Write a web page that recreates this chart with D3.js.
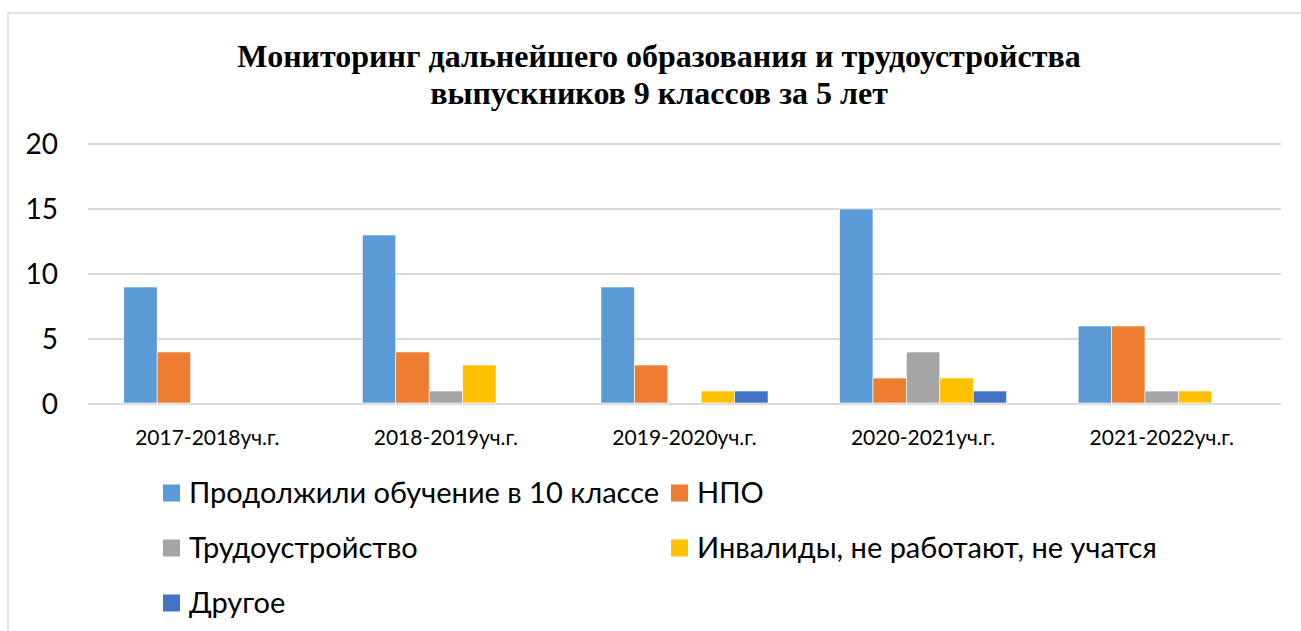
<!DOCTYPE html>
<html><head><meta charset="utf-8">
<script src="https://cdn.jsdelivr.net/npm/d3@7"></script>
<style>body{margin:0;background:#fff}svg{display:block}</style>
</head><body>
<svg id="c" width="1301" height="631"></svg>
<script>
const categories = ["2017-2018уч.г.","2018-2019уч.г.","2019-2020уч.г.","2020-2021уч.г.","2021-2022уч.г."];
const seriesNames = ["Продолжили обучение в 10 классе","НПО","Трудоустройство","Инвалиды, не работают, не учатся","Другое"];
const seriesColors = ["#5B9BD5","#ED7D31","#A5A5A5","#FFC000","#4472C4"];
const continued = [9,13,9,15,6];
const npo = [4,4,3,2,6];
const employed = [0,1,0,4,1];
const disabled = [0,3,1,2,1];
const other = [0,0,1,1,0];
const yTicks = [0,5,10,15,20];
const titleLines = ["Мониторинг дальнейшего образования и трудоустройства","выпускников 9 классов за 5 лет"];

(function(){
const seriesValues = [continued, npo, employed, disabled, other];
const svg = d3.select("#c");
const sansFont = "Lato, 'Open Sans', sans-serif";

svg.append("rect").attr("x",8).attr("y",13).attr("width",1310).attr("height",640)
  .attr("fill","#fff").attr("stroke","#d9d9d9").attr("stroke-width",1.5);

svg.append("g").selectAll("text").data(titleLines).join("text")
  .attr("x",659).attr("y",(d,i)=>67+i*37)
  .attr("text-anchor","middle").attr("font-family","'Liberation Serif','Times New Roman',serif")
  .attr("font-weight","bold").attr("font-size",32).attr("fill","#000").text(d=>d);

const pLeft=88, pRight=1281, pTop=144, pBottom=404;
const y = d3.scaleLinear().domain([0,20]).range([pBottom,pTop]);
const x0 = d3.scaleBand().domain(categories).range([pLeft,pRight]).paddingInner(0).paddingOuter(0);
const x1 = d3.scaleBand().domain(d3.range(seriesNames.length)).range([0,x0.bandwidth()]).paddingInner(0).paddingOuter(1.07);

svg.append("g").selectAll("line").data(yTicks).join("line")
  .attr("x1",pLeft).attr("x2",pRight).attr("y1",d=>y(d)).attr("y2",d=>y(d))
  .attr("stroke","#d9d9d9").attr("stroke-width",2);

svg.append("g").selectAll("text").data(yTicks).join("text")
  .attr("x",58).attr("y",d=>y(d)).attr("dy","0.36em").attr("text-anchor","end")
  .attr("font-family",sansFont).attr("font-size",28).attr("fill","#000").text(d=>d);

const g = svg.append("g");
categories.forEach((c,ci)=>{
  seriesValues.forEach((vals,si)=>{
    const v = vals[ci];
    if(v<=0) return;
    g.append("rect").attr("x",x0(c)+x1(si)).attr("width",x1.bandwidth())
      .attr("y",y(v)).attr("height",y(0)-y(v)-1)
      .attr("fill",seriesColors[si]).attr("stroke","#fff").attr("stroke-width",0.6);
  });
});

svg.append("g").selectAll("text").data(categories).join("text")
  .attr("x",d=>x0(d)+x0.bandwidth()/2).attr("y",437).attr("dy","0.36em")
  .attr("text-anchor","middle").attr("font-family",sansFont).attr("font-size",21).attr("fill","#000").text(d=>d);

const legendPos = [[163,493],[671,493],[163,548],[671,548],[163,603]];
const lg = svg.append("g").selectAll("g").data(seriesNames).join("g")
  .attr("transform",(d,i)=>`translate(${legendPos[i][0]},${legendPos[i][1]})`);
lg.append("rect").attr("x",0).attr("y",-8.5).attr("width",17).attr("height",17).attr("fill",(d,i)=>seriesColors[i]);
lg.append("text").attr("x",26).attr("y",0).attr("dy","0.36em")
  .attr("font-family",sansFont).attr("font-size",29).attr("fill","#000").text(d=>d);
})();
</script>
</body></html>
